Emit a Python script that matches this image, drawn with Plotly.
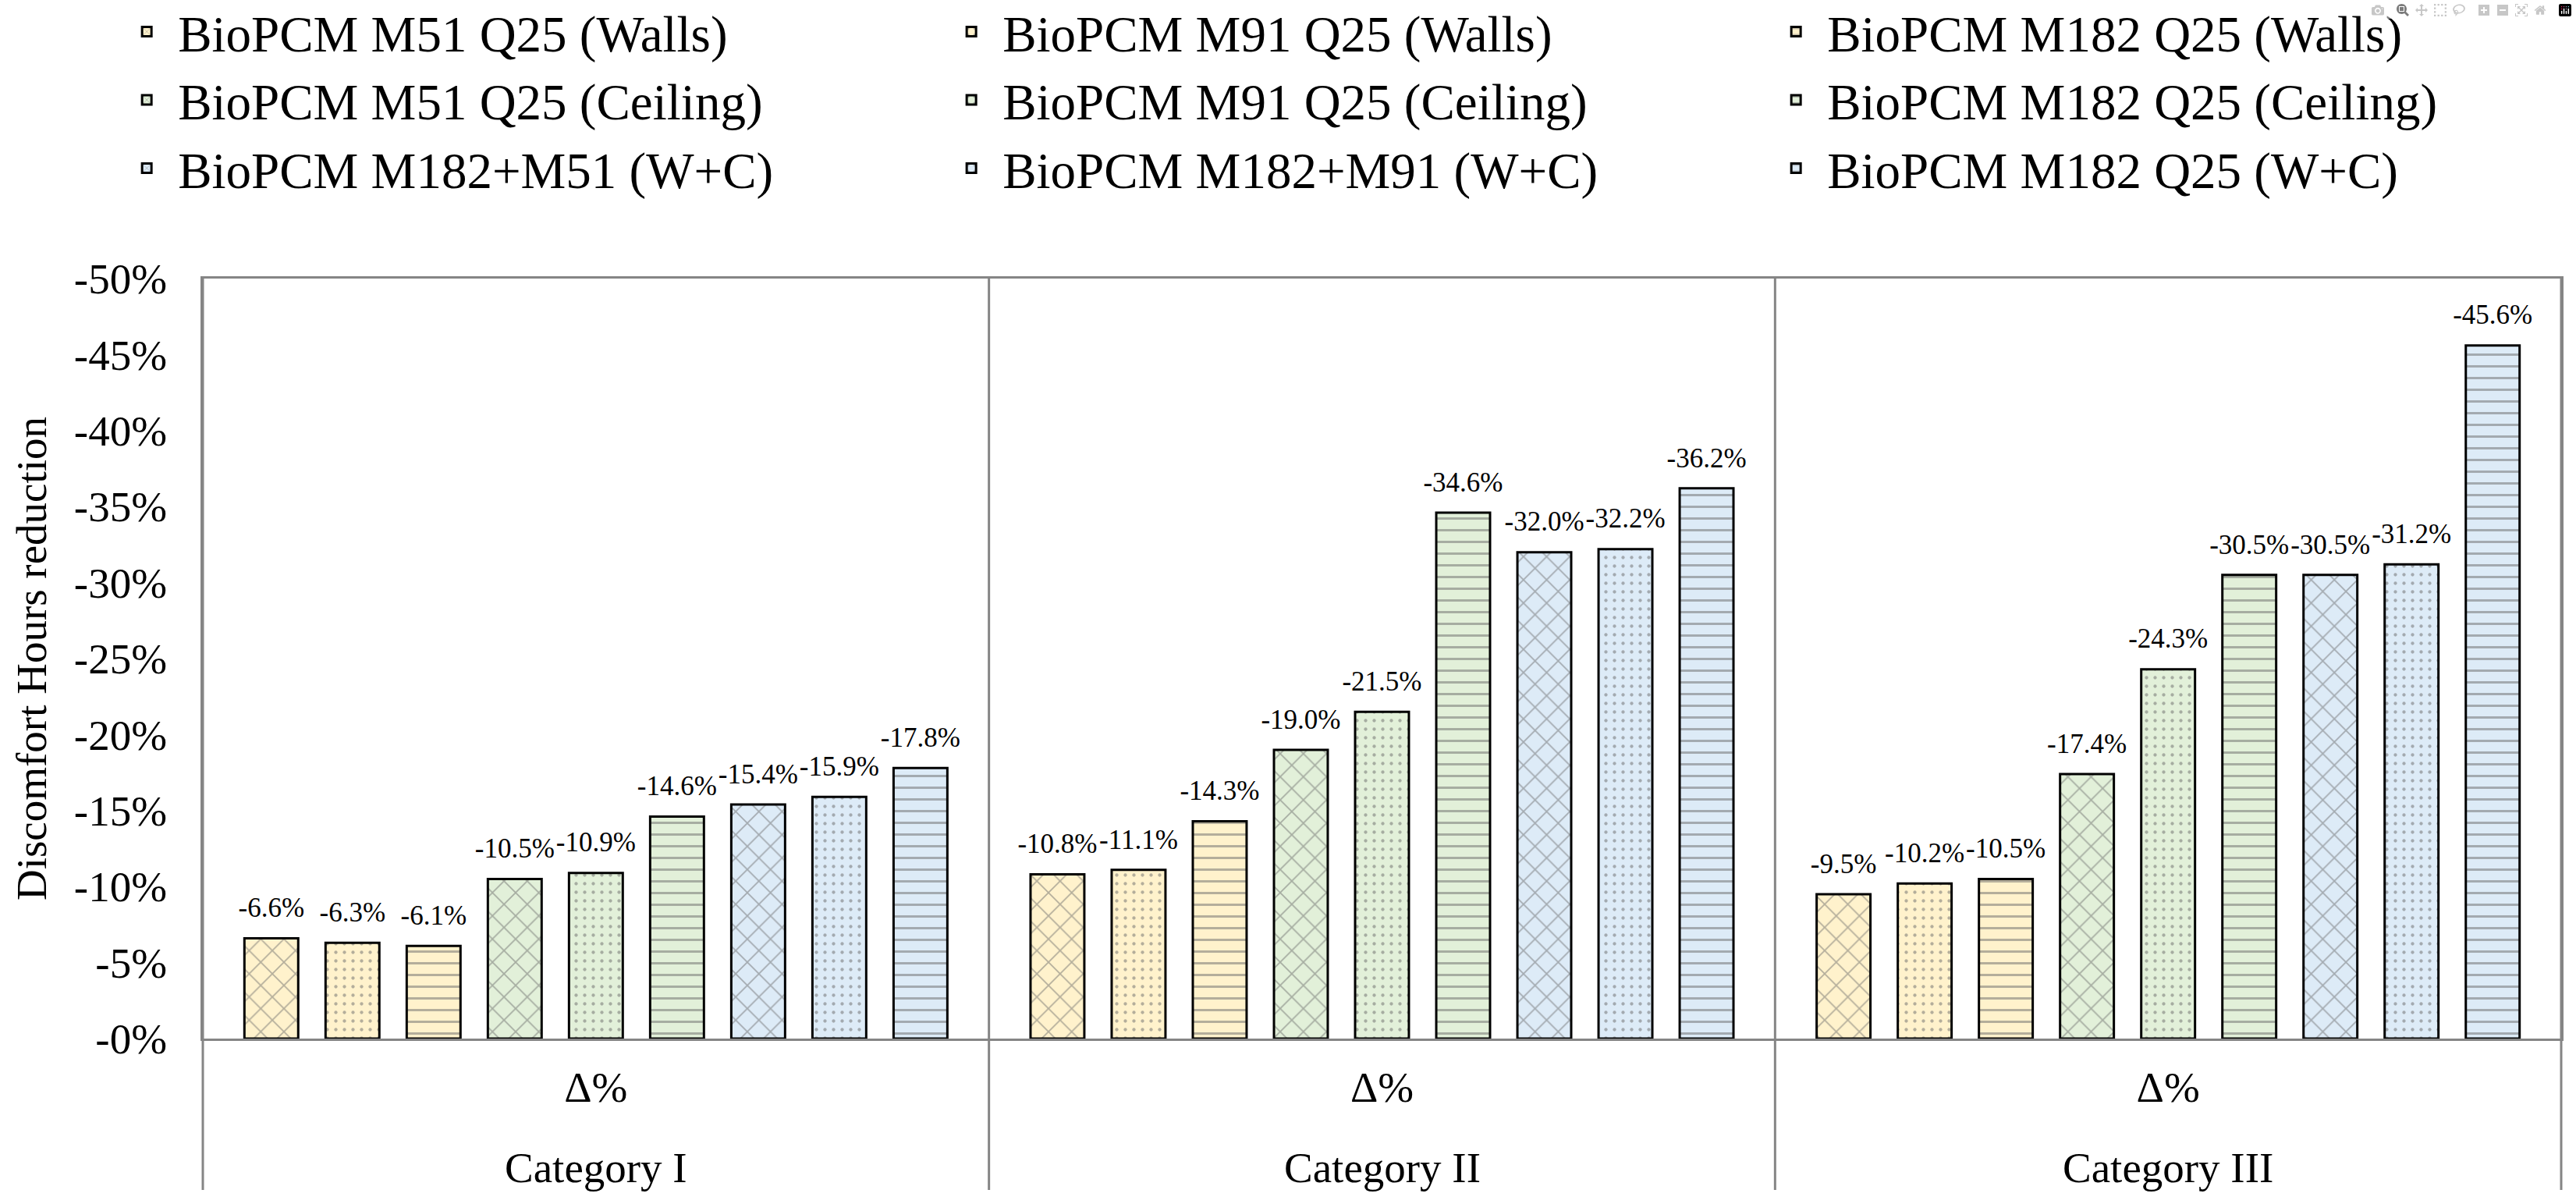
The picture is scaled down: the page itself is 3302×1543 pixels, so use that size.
import plotly.graph_objects as go

# ---- data ----
categories = ["Category I", "Category II", "Category III"]
sub_label = "Δ%"

series_names = [
    "BioPCM M51 Q25 (Walls)", "BioPCM M91 Q25 (Walls)", "BioPCM M182 Q25 (Walls)",
    "BioPCM M51 Q25 (Ceiling)", "BioPCM M91 Q25 (Ceiling)", "BioPCM M182 Q25 (Ceiling)",
    "BioPCM M182+M51 (W+C)", "BioPCM M182+M91 (W+C)", "BioPCM M182 Q25 (W+C)",
]

m51_walls = [-6.6, -10.8, -9.5]
m91_walls = [-6.3, -11.1, -10.2]
m182_walls = [-6.1, -14.3, -10.5]
m51_ceiling = [-10.5, -19.0, -17.4]
m91_ceiling = [-10.9, -21.5, -24.3]
m182_ceiling = [-14.6, -34.6, -30.5]
m182_m51_wc = [-15.4, -32.0, -30.5]
m182_m91_wc = [-15.9, -32.2, -31.2]
m182_wc = [-17.8, -36.2, -45.6]

series_values = [m51_walls, m91_walls, m182_walls,
                 m51_ceiling, m91_ceiling, m182_ceiling,
                 m182_m51_wc, m182_m91_wc, m182_wc]

y_tick_values = [0, -5, -10, -15, -20, -25, -30, -35, -40, -45, -50]
y_tick_labels = ["-0%", "-5%", "-10%", "-15%", "-20%", "-25%", "-30%", "-35%", "-40%", "-45%", "-50%"]

# ---- styles ----
FONT = "Liberation Serif"
GRAY = "#858585"
PAT = "#6a6a6a"
fills = ["#FFF2CC"] * 3 + ["#E2F0D9"] * 3 + ["#DDEBF7"] * 3
shapes = ["x", ".", "-"] * 3
sizes = {"x": 21, ".": 11, "-": 15}
solid = {"x": 0.16, ".": 0.12, "-": 0.2}
BARGAP = 0.071

fig = go.Figure()
for name, vals, fc, sh in zip(series_names, series_values, fills, shapes):
    fig.add_trace(go.Bar(
        name=name,
        x=categories,
        y=vals,
        offsetgroup=name,
        marker=dict(
            color=fc,
            line=dict(color="black", width=3),
            pattern=dict(shape=sh, fgcolor=PAT, bgcolor=fc, size=sizes[sh],
                         solidity=solid[sh], fillmode="overlay"),
        ),
    ))

# value labels, grouped the same way as the bars
for name, vals in zip(series_names, series_values):
    fig.add_trace(go.Scatter(
        x=categories, y=vals,
        offsetgroup=name,
        mode="markers+text",
        text=[f"{v:.1f}%" for v in vals],
        textposition="top center",
        textfont=dict(family=FONT, size=35, color="black"),
        marker=dict(size=28, color="rgba(0,0,0,0)"),
        showlegend=False, hoverinfo="skip", cliponaxis=False,
    ))

fig.update_layout(
    width=3302, height=1543,
    margin=dict(l=260, r=19, t=357, b=212, autoexpand=False),
    paper_bgcolor="white", plot_bgcolor="white",
    font=dict(family=FONT, color="black", size=55),
    barmode="group", bargap=BARGAP, bargroupgap=0.337,
    scattermode="group", scattergap=BARGAP,
    showlegend=True,
    legend=dict(
        orientation="h", x=-0.037, xanchor="left", y=1.375, yanchor="top",
        font=dict(family=FONT, size=65, color="black"),
        entrywidth=972, entrywidthmode="pixels", itemwidth=70,
        traceorder="normal", bgcolor="rgba(0,0,0,0)",
    ),
    xaxis=dict(
        type="category",
        tickvals=categories, ticktext=[sub_label] * len(categories),
        showline=True, linecolor=GRAY, linewidth=3, mirror=True,
        ticks="", showgrid=False, ticklabelstandoff=12,
        tickfont=dict(family=FONT, size=55, color="black"),
    ),
    yaxis=dict(
        range=[0, -50],
        tickvals=y_tick_values, ticktext=y_tick_labels,
        showline=True, linecolor=GRAY, linewidth=3, mirror=True,
        showgrid=False, zeroline=False, ticks="",
        ticklabelstandoff=32,
        tickfont=dict(family=FONT, size=55, color="black"),
        title=dict(text="Discomfort Hours reduction", standoff=18,
                   font=dict(family=FONT, size=55, color="black")),
    ),
    shapes=[
        dict(type="line", xref="x domain", yref="paper", x0=f, x1=f, y0=-0.1992, y1=1,
             line=dict(color=GRAY, width=3), layer="below")
        for f in (0, 1 / 3, 2 / 3, 1)
    ],
    annotations=[
        dict(text=c, x=c, xref="x", y=-0.1704, yref="paper", yanchor="middle",
             showarrow=False, font=dict(family=FONT, size=55, color="black"))
        for c in categories
    ],
)

fig.write_html("out.html",
               post_script="document.body.style.margin='0';document.body.style.overflow='hidden';")
